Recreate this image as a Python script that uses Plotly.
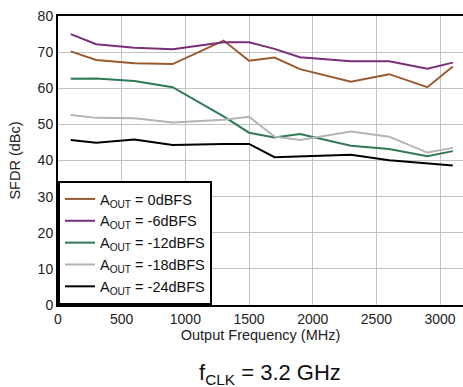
import plotly.graph_objects as go

freq_mhz = [100, 300, 600, 900, 1300, 1500, 1700, 1900, 2300, 2600, 2900, 3100]
sfdr_0dbfs = [70.2, 67.8, 66.9, 66.7, 73.2, 67.6, 68.5, 65.3, 61.8, 63.9, 60.3, 66.0]
sfdr_m6dbfs = [75.0, 72.2, 71.2, 70.8, 72.7, 72.7, 70.9, 68.6, 67.5, 67.5, 65.4, 67.1]
sfdr_m12dbfs = [62.6, 62.7, 62.0, 60.3, 52.2, 47.7, 46.4, 47.3, 44.1, 43.2, 41.2, 42.6]
sfdr_m18dbfs = [52.6, 51.8, 51.7, 50.5, 51.3, 52.1, 46.6, 45.7, 48.0, 46.6, 42.2, 43.5]
sfdr_m24dbfs = [45.7, 44.9, 45.8, 44.3, 44.6, 44.6, 40.9, 41.2, 41.6, 40.1, 39.2, 38.6]

series_names = ["A<sub>OUT</sub> = 0dBFS", "A<sub>OUT</sub> = -6dBFS", "A<sub>OUT</sub> = -12dBFS",
                "A<sub>OUT</sub> = -18dBFS", "A<sub>OUT</sub> = -24dBFS"]
series_values = [sfdr_0dbfs, sfdr_m6dbfs, sfdr_m12dbfs, sfdr_m18dbfs, sfdr_m24dbfs]
colors = ["#9b5a2e", "#7a2e78", "#2f7a55", "#b4b4b4", "#000000"]

x_ticks = [0, 500, 1000, 1500, 2000, 2500, 3000]
y_ticks = [0, 10, 20, 30, 40, 50, 60, 70, 80]

fig = go.Figure()
for name, vals, c in zip(series_names, series_values, colors):
    fig.add_trace(go.Scatter(x=freq_mhz, y=vals, mode="lines", name=name,
                             line=dict(color=c, width=2)))

font_family = "Liberation Sans, Arial, sans-serif"
fig.update_layout(
    width=463, height=387,
    margin=dict(l=58, r=0, t=16, b=82),
    paper_bgcolor="white", plot_bgcolor="white",
    font=dict(family=font_family, size=14, color="#222"),
    showlegend=True,
    legend=dict(x=0, y=0, xanchor="left", yanchor="bottom",
                bgcolor="white", bordercolor="black", borderwidth=2,
                font=dict(size=14.5, color="#111"), tracegroupgap=0,
                itemwidth=30),
    annotations=[dict(text="f<sub>CLK</sub> = 3.2 GHz", x=0.523, xref="paper",
                      y=-0.239, yref="paper", xanchor="center", yanchor="middle",
                      showarrow=False, font=dict(size=22, color="#111"))],
)
fig.update_xaxes(range=[0, 3180], tickvals=x_ticks, showgrid=True, gridcolor="#c4c4c4",
                 gridwidth=1, showline=True, linecolor="black", linewidth=2, mirror=True,
                 zeroline=False, ticks="", tickfont=dict(size=14),
                 title=dict(text="Output Frequency (MHz)", font=dict(size=14.5), standoff=2))
fig.update_yaxes(range=[0, 80], tickvals=y_ticks, showgrid=True, gridcolor="#c4c4c4",
                 gridwidth=1, showline=True, linecolor="black", linewidth=2,
                 zeroline=True, zerolinecolor="black", zerolinewidth=2,
                 ticks="", tickfont=dict(size=14),
                 title=dict(text="SFDR (dBc)", font=dict(size=14.5), standoff=14))

fig.write_html("out.html", config={"displayModeBar": False},
               post_script="document.body.style.margin='0';")
